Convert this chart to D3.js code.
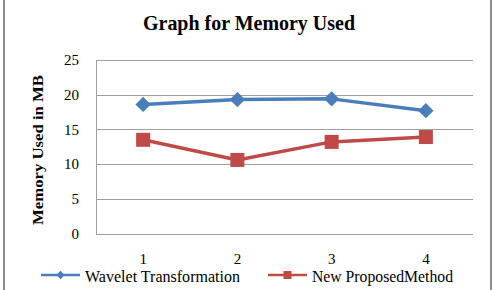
<!DOCTYPE html>
<html><head><meta charset="utf-8">
<script src="https://cdn.jsdelivr.net/npm/d3@7"></script>
<style>body{margin:0;background:#fff}svg{display:block}text{font-family:"Liberation Serif","Times New Roman","DejaVu Serif",serif}</style>
</head><body><div id="c"></div>
<script>
const categories = ["1","2","3","4"];
const waveletValues = [18.6, 19.3, 19.4, 17.7];
const proposedValues = [13.5, 10.6, 13.2, 13.9];
const yTicks = [0,5,10,15,20,25];
const seriesNames = ["Wavelet Transformation","New ProposedMethod"];
const colors = ["#4a7ebb","#be4b48"];

const W=494,H=290;
const svg=d3.select("#c").append("svg").attr("width",W).attr("height",H);
svg.append("rect").attr("x",4).attr("y",-5).attr("width",487).attr("height",H+10)
  .attr("fill","none").attr("stroke","#8c8c8c").attr("stroke-width",2);

const L=96,R=473,T=60,B=233.5;
const x=d3.scaleBand().domain(categories).range([L,R]);
const y=d3.scaleLinear().domain([0,25]).range([B,T]);

svg.append("text").attr("x",143).attr("y",30)
  .attr("font-weight","bold").attr("font-size",20)
  .attr("textLength",212).attr("lengthAdjust","spacingAndGlyphs")
  .text("Graph for Memory Used");

// grid
svg.append("g").selectAll("line").data(yTicks).join("line")
  .attr("x1",L).attr("x2",R).attr("y1",d=>Math.round(y(d))+0.5).attr("y2",d=>Math.round(y(d))+0.5)
  .attr("stroke","#a0a0a0").attr("stroke-width",1);
svg.append("line").attr("x1",L+0.5).attr("x2",L+0.5).attr("y1",y(25)).attr("y2",y(0)+0.5)
  .attr("stroke","#a0a0a0");

// y axis labels
const ya=svg.append("g").attr("transform",`translate(${L},0)`)
  .call(d3.axisLeft(y).tickValues(yTicks).tickSize(0).tickPadding(17));
ya.select(".domain").remove();
ya.selectAll("text").attr("font-size",15).attr("fill","#000");

const xa=svg.append("g").attr("transform",`translate(0,${B})`)
  .call(d3.axisBottom(x).tickSize(0).tickPadding(20));
xa.select(".domain").remove();
xa.selectAll("text").attr("font-size",15).attr("fill","#000");

svg.append("text").attr("transform","translate(43,225) rotate(-90)")
  .attr("font-weight","bold").attr("font-size",15)
  .attr("textLength",150).attr("lengthAdjust","spacingAndGlyphs")
  .text("Memory Used in MB");

const cx=d=>x(d)+x.bandwidth()/2;
const line=d3.line().x((d,i)=>cx(categories[i])).y(d=>y(d));
[waveletValues,proposedValues].forEach((vals,si)=>{
  svg.append("path").datum(vals).attr("d",line).attr("fill","none")
    .attr("stroke",colors[si]).attr("stroke-width",3.5).attr("stroke-linejoin","round");
});
const sym0=d3.symbol().type(d3.symbolDiamond2).size(150);
svg.append("g").selectAll("path").data(waveletValues).join("path")
  .attr("d",sym0).attr("transform",(d,i)=>`translate(${cx(categories[i])},${y(d)})`)
  .attr("fill",colors[0]);
svg.append("g").selectAll("rect").data(proposedValues).join("rect")
  .attr("x",(d,i)=>cx(categories[i])-7).attr("y",d=>y(d)-7).attr("width",14).attr("height",14)
  .attr("fill",colors[1]);

// legend
const lg=[{x1:41,x2:80,tx:85,w:155},{x1:268,x2:307,tx:312,w:141}];
lg.forEach((g,i)=>{
  svg.append("line").attr("x1",g.x1).attr("x2",g.x2).attr("y1",275).attr("y2",275)
    .attr("stroke",colors[i]).attr("stroke-width",2.5);
  const mx=(g.x1+g.x2)/2;
  if(i===0) svg.append("path").attr("d",d3.symbol().type(d3.symbolDiamond2).size(45)())
    .attr("transform",`translate(${mx},275)`).attr("fill",colors[0]);
  else svg.append("rect").attr("x",mx-4).attr("y",271).attr("width",8).attr("height",8).attr("fill",colors[1]);
  svg.append("text").attr("x",g.tx).attr("y",282).attr("font-size",16)
    .attr("textLength",g.w).attr("lengthAdjust","spacingAndGlyphs")
    .text(seriesNames[i]);
});
</script></body></html>
